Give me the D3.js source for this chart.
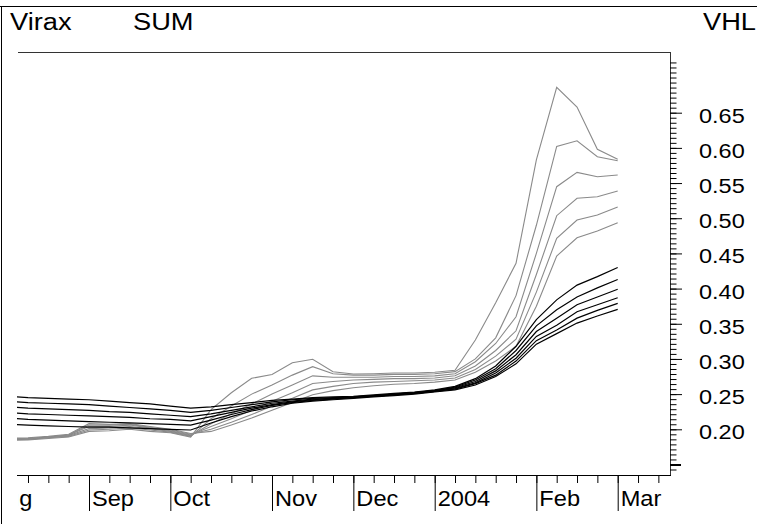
<!DOCTYPE html>
<html>
<head>
<meta charset="utf-8">
<script src="https://cdn.jsdelivr.net/npm/d3@7"></script>
<style>
  html, body { margin: 0; padding: 0; background: #fff; }
  svg { display: block; }
  text { font-family: "Liberation Sans", Arial, Helvetica, sans-serif; fill: #000; }
</style>
</head>
<body>
<svg id="chart" width="757" height="524"></svg>
<script>
// Weekly observation dates (Fridays)
const weeks = [
  "2003-08-08","2003-08-15","2003-08-22","2003-08-29","2003-09-05","2003-09-12",
  "2003-09-19","2003-09-26","2003-10-03","2003-10-10","2003-10-17","2003-10-24",
  "2003-10-31","2003-11-07","2003-11-14","2003-11-21","2003-11-28","2003-12-05",
  "2003-12-12","2003-12-19","2003-12-26","2004-01-02","2004-01-09","2004-01-16",
  "2004-01-23","2004-01-30","2004-02-06","2004-02-13","2004-02-20","2004-02-27",
  "2004-03-05"
];

// Upper (grey) curves
const upper1 = [0.184,0.185,0.187,0.189,0.197,0.198,0.200,0.197,0.195,0.189,0.228,0.252,0.2725,0.278,0.2947,0.2995,0.2819,0.2786,0.279,0.280,0.280,0.281,0.284,0.327,0.380,0.436,0.583,0.686,0.658,0.598,0.584];
const upper2 = [0.185,0.186,0.188,0.190,0.199,0.200,0.202,0.199,0.196,0.190,0.215,0.233,0.250,0.263,0.277,0.289,0.279,0.277,0.277,0.278,0.278,0.279,0.282,0.300,0.330,0.390,0.490,0.602,0.610,0.5875,0.5817];
const upper3 = [0.185,0.186,0.188,0.191,0.201,0.202,0.204,0.201,0.197,0.191,0.208,0.222,0.236,0.250,0.263,0.276,0.274,0.274,0.274,0.275,0.275,0.276,0.279,0.296,0.322,0.360,0.450,0.5448,0.5652,0.559,0.5614];
const upper4 = [0.186,0.187,0.189,0.192,0.204,0.204,0.206,0.202,0.198,0.192,0.204,0.215,0.227,0.240,0.252,0.265,0.268,0.270,0.271,0.272,0.272,0.273,0.276,0.290,0.312,0.340,0.420,0.5036,0.5283,0.5306,0.5387];
const upper5 = [0.186,0.187,0.189,0.192,0.206,0.206,0.207,0.203,0.199,0.193,0.200,0.210,0.221,0.233,0.244,0.256,0.261,0.265,0.267,0.268,0.269,0.270,0.273,0.285,0.304,0.328,0.395,0.4714,0.4975,0.5046,0.516];
const upper6 = [0.187,0.188,0.190,0.193,0.208,0.207,0.208,0.204,0.200,0.194,0.197,0.206,0.216,0.227,0.238,0.249,0.255,0.259,0.262,0.264,0.265,0.267,0.270,0.281,0.297,0.318,0.375,0.4463,0.4723,0.4818,0.4936];

// Lower (black) curves
const lower1 = [0.247,0.245,0.244,0.243,0.242,0.240,0.238,0.236,0.233,0.230,0.232,0.235,0.238,0.241,0.243,0.245,0.246,0.247,0.249,0.251,0.253,0.256,0.261,0.272,0.290,0.318,0.356,0.384,0.405,0.417,0.430];
const lower2 = [0.240,0.238,0.237,0.236,0.235,0.233,0.231,0.229,0.227,0.224,0.227,0.231,0.235,0.239,0.242,0.244,0.245,0.246,0.248,0.250,0.252,0.255,0.260,0.270,0.286,0.312,0.347,0.370,0.388,0.401,0.413];
const lower3 = [0.232,0.230,0.229,0.228,0.227,0.225,0.224,0.222,0.220,0.218,0.222,0.227,0.232,0.237,0.240,0.243,0.244,0.246,0.248,0.250,0.252,0.255,0.259,0.268,0.283,0.306,0.339,0.358,0.377,0.388,0.399];
const lower4 = [0.224,0.222,0.221,0.220,0.219,0.218,0.217,0.215,0.214,0.212,0.218,0.224,0.230,0.235,0.239,0.242,0.244,0.245,0.247,0.249,0.251,0.254,0.258,0.266,0.280,0.301,0.332,0.348,0.367,0.377,0.387];
const lower5 = [0.216,0.214,0.213,0.212,0.211,0.210,0.209,0.208,0.207,0.206,0.213,0.221,0.228,0.234,0.238,0.241,0.243,0.245,0.247,0.249,0.251,0.254,0.257,0.265,0.277,0.297,0.326,0.341,0.358,0.369,0.379];
const lower6 = [0.207,0.206,0.205,0.204,0.203,0.203,0.202,0.201,0.200,0.199,0.209,0.218,0.226,0.232,0.237,0.240,0.242,0.244,0.246,0.248,0.250,0.253,0.256,0.263,0.275,0.293,0.321,0.336,0.351,0.361,0.3705];

// Axis ticks
const monthTickDates = ["2003-08-01","2003-09-05","2003-10-03","2003-11-07","2003-12-05","2004-01-02","2004-02-06","2004-03-05"];
const monthTickLabels = ["Aug","Sep","Oct","Nov","Dec","2004","Feb","Mar"];
const valueTicks = [0.20,0.25,0.30,0.35,0.40,0.45,0.50,0.55,0.60,0.65];
const valueTickLabels = ["0.20","0.25","0.30","0.35","0.40","0.45","0.50","0.55","0.60","0.65"];

// Layout
const plot = { left: 17, right: 670, top: 52, bottom: 475 };
const parse = d3.utcParse("%Y-%m-%d");

const svg = d3.select("#chart");

const x = d3.scaleUtc()
  .domain([parse("2003-09-05"), parse("2004-03-05")])
  .range([89, 617.7]);
const y = d3.scaleLinear()
  .domain([0.20, 0.65])
  .range([429.3, 112.7]);

// Outer frame (top and left edges)
svg.append("line").attr("x1", 0).attr("x2", 757).attr("y1", 6.5).attr("y2", 6.5)
  .attr("stroke", "#000").attr("stroke-width", 1);
svg.append("line").attr("x1", 1.5).attr("x2", 1.5).attr("y1", 6).attr("y2", 524)
  .attr("stroke", "#000").attr("stroke-width", 1);

// Header texts
const header = svg.append("g").attr("font-size", 23.5);
header.append("text").attr("transform", "translate(10,30) scale(1.16,1)").text("Virax");
header.append("text").attr("transform", "translate(133,30) scale(1.16,1)").text("SUM");
header.append("text").attr("text-anchor", "end")
  .attr("transform", "translate(756,30) scale(1.16,1)").text("VHL");

// Plot frame: top line, right axis line, bottom axis line
svg.append("line").attr("x1", plot.left + 1).attr("x2", plot.right)
  .attr("y1", plot.top + 0.5).attr("y2", plot.top + 0.5)
  .attr("stroke", "#333").attr("stroke-width", 1);
svg.append("line").attr("x1", plot.right + 0.5).attr("x2", plot.right + 0.5)
  .attr("y1", plot.top).attr("y2", plot.bottom)
  .attr("stroke", "#333").attr("stroke-width", 1);
svg.append("line").attr("x1", plot.left).attr("x2", plot.right + 1)
  .attr("y1", plot.bottom + 0.5).attr("y2", plot.bottom + 0.5)
  .attr("stroke", "#000").attr("stroke-width", 1);

// Clip regions
const defs = svg.append("defs");
defs.append("clipPath").attr("id", "plotClip").append("rect")
  .attr("x", plot.left).attr("y", plot.top)
  .attr("width", plot.right - plot.left).attr("height", plot.bottom - plot.top);
defs.append("clipPath").attr("id", "xAxisClip").append("rect")
  .attr("x", plot.left + 1.5).attr("y", plot.bottom)
  .attr("width", plot.right - plot.left).attr("height", 524 - plot.bottom);

// Weekly minor ticks on the time axis
const weeklyTicks = d3.utcFriday.range(parse("2003-08-15"), parse("2004-03-20"));
const xMinor = svg.append("g")
  .attr("transform", `translate(0,${plot.bottom})`)
  .call(d3.axisBottom(x).tickValues(weeklyTicks).tickSize(8).tickSizeOuter(0).tickFormat(""));
xMinor.select(".domain").remove();
xMinor.selectAll(".tick line").attr("stroke", "#000");

// Month ticks with labels
const xMajor = svg.append("g")
  .attr("clip-path", "url(#xAxisClip)")
  .append("g")
  .attr("transform", `translate(0,${plot.bottom})`)
  .call(d3.axisBottom(x)
    .tickValues(monthTickDates.map(parse))
    .tickSize(36).tickSizeOuter(0)
    .tickFormat((d, i) => monthTickLabels[i]));
xMajor.select(".domain").remove();
xMajor.selectAll(".tick line").attr("stroke", "#000");
xMajor.selectAll(".tick text")
  .attr("x", null).attr("y", null).attr("dy", null)
  .attr("text-anchor", "start")
  .attr("font-size", 22.5)
  .attr("font-family", null)
  .attr("transform", "translate(2.5,30.5) scale(1.05,1)");

// Value axis on the right: minor ticks every 1/7 of a major step
const minorStep = 0.05 / 7;
const minorValues = d3.range(-1, 81).map(k => 0.15 + k * minorStep);
const yMinor = svg.append("g")
  .attr("transform", `translate(${plot.right},0)`)
  .call(d3.axisRight(y).tickValues(minorValues).tickSize(6.5).tickSizeOuter(0).tickFormat(""));
yMinor.select(".domain").remove();
yMinor.selectAll(".tick line").attr("stroke", "#000");

const yBase = svg.append("g")
  .attr("transform", `translate(${plot.right},0)`)
  .call(d3.axisRight(y).tickValues([0.15]).tickSize(11).tickSizeOuter(0).tickFormat(""));
yBase.select(".domain").remove();
yBase.selectAll(".tick line").attr("stroke", "#000").attr("stroke-width", 2);

const yMajor = svg.append("g")
  .attr("transform", `translate(${plot.right},0)`)
  .call(d3.axisRight(y).tickValues(valueTicks).tickSize(12).tickSizeOuter(0)
    .tickFormat((d, i) => valueTickLabels[i]));
yMajor.select(".domain").remove();
yMajor.selectAll(".tick line").attr("stroke", "#000");
yMajor.selectAll(".tick text")
  .attr("x", null).attr("y", null).attr("dy", null)
  .attr("text-anchor", "start")
  .attr("font-size", 21)
  .attr("font-family", null)
  .attr("transform", "translate(29,9.5) scale(1.12,1)");

// Curves
const dates = weeks.map(parse);
const line = d3.line()
  .x((d, i) => x(dates[i]))
  .y(d => y(d));

const curves = svg.append("g").attr("clip-path", "url(#plotClip)").attr("fill", "none");
[upper6, upper5, upper4, upper3, upper2, upper1].forEach(s => {
  curves.append("path").attr("d", line(s))
    .attr("stroke", "#8a8a8a").attr("stroke-width", 1.1);
});
[lower6, lower5, lower4, lower3, lower2, lower1].forEach(s => {
  curves.append("path").attr("d", line(s))
    .attr("stroke", "#000").attr("stroke-width", 1.2);
});
</script>
</body>
</html>
